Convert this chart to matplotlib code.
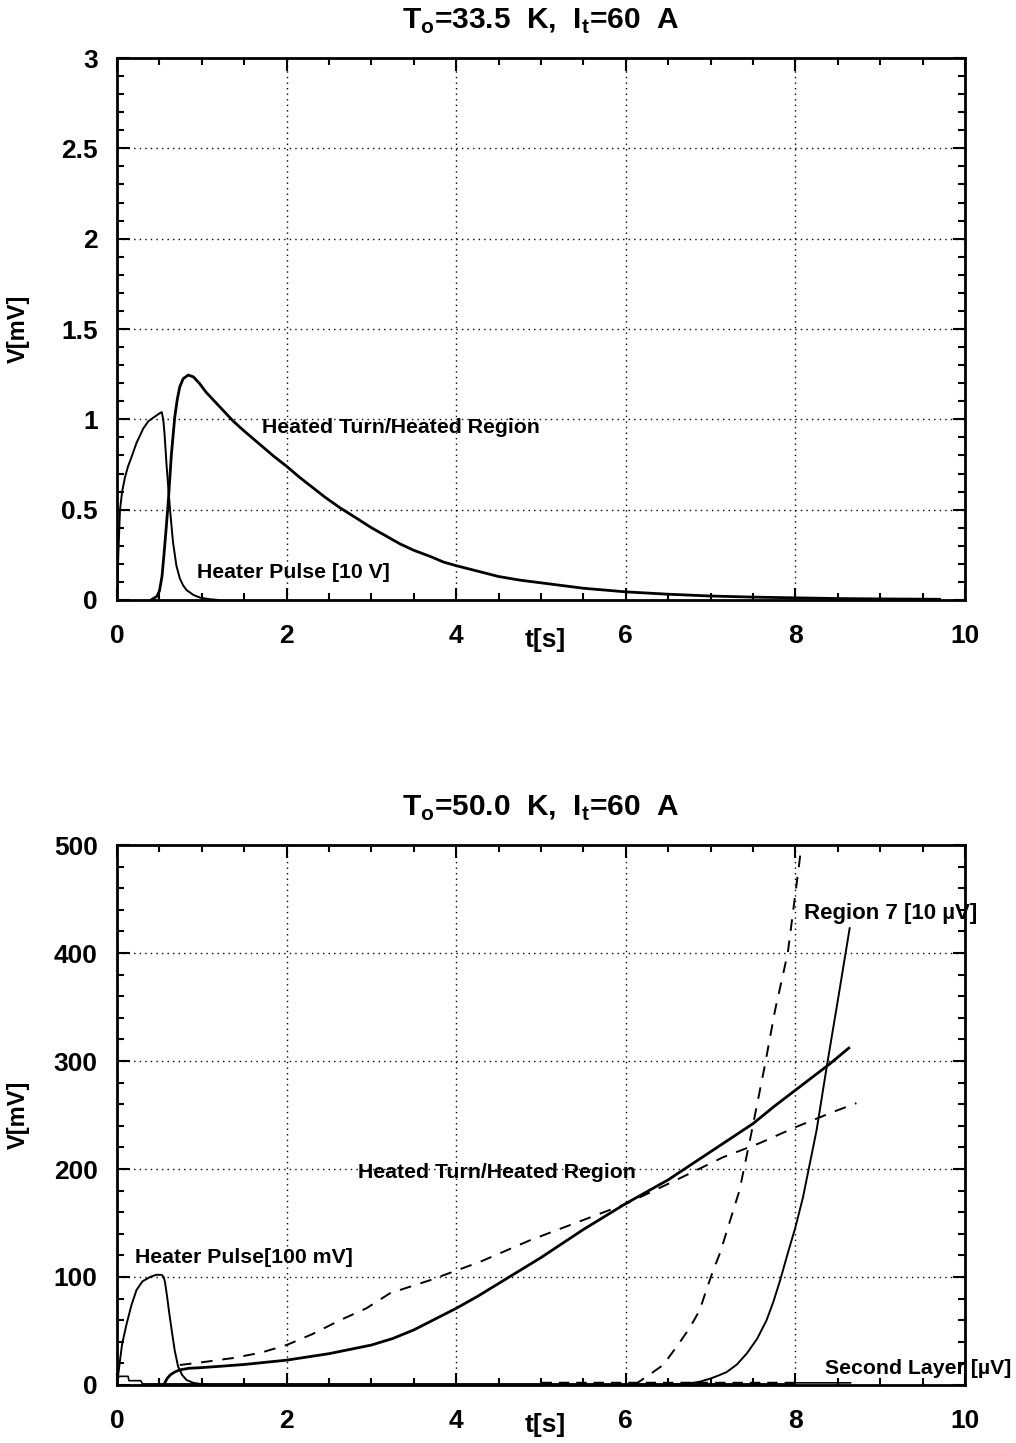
import matplotlib
matplotlib.use("Agg")
import matplotlib.pyplot as plt
from matplotlib.ticker import MultipleLocator

plt.rcParams['font.family'] = ['Liberation Sans', 'DejaVu Sans']
plt.rcParams['font.weight'] = 'bold'
plt.rcParams['mathtext.fontset'] = 'custom'
plt.rcParams['mathtext.bf'] = 'Liberation Sans:bold'
plt.rcParams['mathtext.rm'] = 'Liberation Sans:bold'

# --- T0 = 33.5 K ---
pulse1_t = [0, 0.015, 0.035, 0.06, 0.094, 0.13, 0.17, 0.23, 0.31, 0.37, 0.43, 0.507, 0.527, 0.545,
            0.56, 0.585, 0.605, 0.625, 0.66, 0.70, 0.74, 0.78, 0.82, 0.9, 0.98, 1.1, 1.2]
pulse1_v = [0, 0.25, 0.50, 0.60, 0.68, 0.74, 0.79, 0.87, 0.95, 0.99, 1.01, 1.035, 1.04, 1.00,
            0.92, 0.74, 0.62, 0.50, 0.32, 0.19, 0.12, 0.08, 0.055, 0.028, 0.013, 0.004, 0]

turn1_t = [0.40, 0.47, 0.50, 0.53, 0.555, 0.58, 0.605, 0.64, 0.68, 0.71, 0.74, 0.78, 0.84, 0.90,
           0.97, 1.05, 1.15, 1.27, 1.37, 1.5, 1.7, 1.85, 2.0, 2.15, 2.3, 2.45, 2.63, 2.8, 3.0,
           3.17, 3.34, 3.5, 3.7, 3.85, 4.0, 4.25, 4.5, 4.75, 5.0, 5.25, 5.5, 5.75, 6.0, 6.5,
           7.0, 7.5, 8.0, 8.5, 9.0, 9.7]
turn1_v = [0, 0.02, 0.05, 0.13, 0.26, 0.40, 0.55, 0.80, 1.01, 1.11, 1.18, 1.225, 1.245, 1.235,
           1.20, 1.15, 1.10, 1.04, 0.99, 0.935, 0.855, 0.795, 0.74, 0.68, 0.625, 0.57, 0.51, 0.46, 0.40,
           0.355, 0.31, 0.275, 0.24, 0.21, 0.19, 0.16, 0.13, 0.11, 0.095, 0.08, 0.065, 0.055, 0.045, 0.032,
           0.022, 0.016, 0.012, 0.008, 0.006, 0.004]

# --- T0 = 50.0 K ---
pulse2_t = [0, 0.03, 0.06, 0.114, 0.17, 0.23, 0.3, 0.39, 0.46, 0.526, 0.55, 0.566, 0.59, 0.615,
            0.644, 0.68, 0.72, 0.77, 0.82, 0.9, 0.98, 1.1]
pulse2_v = [0, 20, 38, 57, 74, 88, 96, 100, 102, 102, 100, 95, 82, 67,
            51, 32, 17, 9, 4.6, 2, 1, 0]

turn2_t = [0.55, 0.59, 0.63, 0.68, 0.74, 0.85, 0.98, 1.25, 1.5, 1.75, 2.0, 2.25, 2.5, 2.75, 3.0,
           3.25, 3.5, 3.75, 4.0, 4.25, 4.5, 4.75, 5.0, 5.25, 5.5, 5.75, 6.0, 6.25, 6.5, 6.75,
           7.0, 7.25, 7.5, 7.75, 8.0, 8.2, 8.4, 8.63]
turn2_v = [0, 6, 9.5, 12, 14, 15.5, 16, 17.5, 19, 21, 23, 26, 29, 33, 37,
           43, 51, 61, 71, 82, 94, 106, 118, 131, 144, 156, 168, 179, 190, 203,
           216, 229, 242, 258, 273, 285, 297, 312]

turn2d_t = [0.74, 1.0, 1.37, 1.7, 2.0, 2.3, 2.63, 2.94, 3.22, 3.69, 4.28, 4.87, 5.54, 6.01,
            6.6, 7.15, 7.58, 8.01, 8.45, 8.72]
turn2d_v = [18.5, 21, 25, 30, 37, 47, 60, 71, 85, 97, 114, 134, 154, 168,
            190, 211, 224, 239, 253, 261]

reg7_t = [6.45, 6.6, 6.75, 6.87, 7.0, 7.1, 7.19, 7.31, 7.43, 7.55, 7.66, 7.74, 7.82, 7.91, 8.0,
          8.09, 8.25, 8.37, 8.5, 8.64]
reg7_v = [0, 0.5, 1.5, 3, 6, 9, 12, 19, 29.5, 43, 60, 77, 97, 122, 146,
          174, 236, 295, 356, 423]

reg7d_t = [6.1, 6.25, 6.44, 6.6, 6.75, 6.87, 6.95, 7.03, 7.11, 7.34, 7.48, 7.64, 7.76, 7.91, 8.05, 8.08]
reg7d_v = [0, 8, 18.5, 35.5, 52.5, 69, 88, 106, 122, 180, 233, 296, 347, 400, 486, 510]

layer2_t = [0, 0.02, 0.13, 0.14, 0.28, 0.30, 0.6, 7.9, 7.95, 8.65]
layer2_v = [0, 8, 8, 4, 4, 1, 1, 1, 2, 2]

layer2d_t = [5.0, 8.0]
layer2d_v = [2.2, 2.2]

fig = plt.figure(figsize=(10.16, 14.43), dpi=100)
ax1 = fig.add_axes([0.1152, 0.5842, 0.8346, 0.3756])
ax2 = fig.add_axes([0.1152, 0.0402, 0.8346, 0.3742])


def style(ax, ymax, ymajor, yminor, title):
    ax.set_xlim(0, 10)
    ax.set_ylim(0, ymax)
    ax.xaxis.set_major_locator(MultipleLocator(2))
    ax.xaxis.set_minor_locator(MultipleLocator(0.5))
    ax.yaxis.set_major_locator(MultipleLocator(ymajor))
    ax.yaxis.set_minor_locator(MultipleLocator(yminor))
    ax.yaxis.set_major_formatter(lambda v, p: f'{v:g}')
    ax.tick_params(which='both', direction='in', top=True, right=True, width=1.5)
    ax.tick_params(which='major', length=9, labelsize=19)
    ax.tick_params(which='minor', length=5)
    ax.tick_params(axis='x', pad=17)
    ax.tick_params(axis='y', pad=14)
    for s in ax.spines.values():
        s.set_linewidth(2)
    ax.grid(True, which='major', color='black', linestyle=(0, (1, 3)), linewidth=1.0)
    ax.set_ylabel('V[mV]', fontsize=17, fontweight='bold')
    ax.yaxis.set_label_coords(-0.103, 0.5)
    ax.text(0.505, -0.074, 't[s]', transform=ax.transAxes, ha='center', va='center',
            fontsize=19, fontweight='bold')
    ax.set_title(title, fontsize=21.5, fontweight='bold', pad=21)


style(ax1, 3, 0.5, 0.1, r'T$_\mathbf{o}$=33.5  K,  I$_\mathbf{t}$=60  A')
style(ax2, 500, 100, 20, r'T$_\mathbf{o}$=50.0  K,  I$_\mathbf{t}$=60  A')

ax1.plot(pulse1_t, pulse1_v, color='black', lw=1.4)
ax1.plot(turn1_t, turn1_v, color='black', lw=2.0)
ax1.text(1.71, 0.957, 'Heated Turn/Heated Region', fontsize=15.3, fontweight='bold', va='center')
ax1.text(0.94, 0.15, 'Heater Pulse [10 V]', fontsize=15.3, fontweight='bold', va='center')

ax2.plot(pulse2_t, pulse2_v, color='black', lw=1.4)
ax2.plot(layer2_t, layer2_v, color='black', lw=1.2)
ax2.plot(layer2d_t, layer2d_v, color='black', lw=2.5, linestyle=(0, (3, 2)))
ax2.plot(turn2_t, turn2_v, color='black', lw=2.0)
ax2.plot(turn2d_t, turn2d_v, color='black', lw=1.4, linestyle=(0, (6, 5)))
ax2.plot(reg7_t, reg7_v, color='black', lw=1.4)
ax2.plot(reg7d_t, reg7d_v, color='black', lw=1.4, linestyle=(0, (6, 5)))
ax2.text(2.84, 197, 'Heated Turn/Heated Region', fontsize=15.3, fontweight='bold', va='center')
ax2.text(0.21, 117.6, 'Heater Pulse[100 mV]', fontsize=15.3, fontweight='bold', va='center')
ax2.text(8.1, 437, 'Region 7 [10 \u00b5V]', fontsize=16, fontweight='bold', va='center', clip_on=False)
ax2.text(8.35, 15, 'Second Layer [\u00b5V]', fontsize=15.3, fontweight='bold', va='center', clip_on=False)

fig.savefig('out.png', dpi=100)
